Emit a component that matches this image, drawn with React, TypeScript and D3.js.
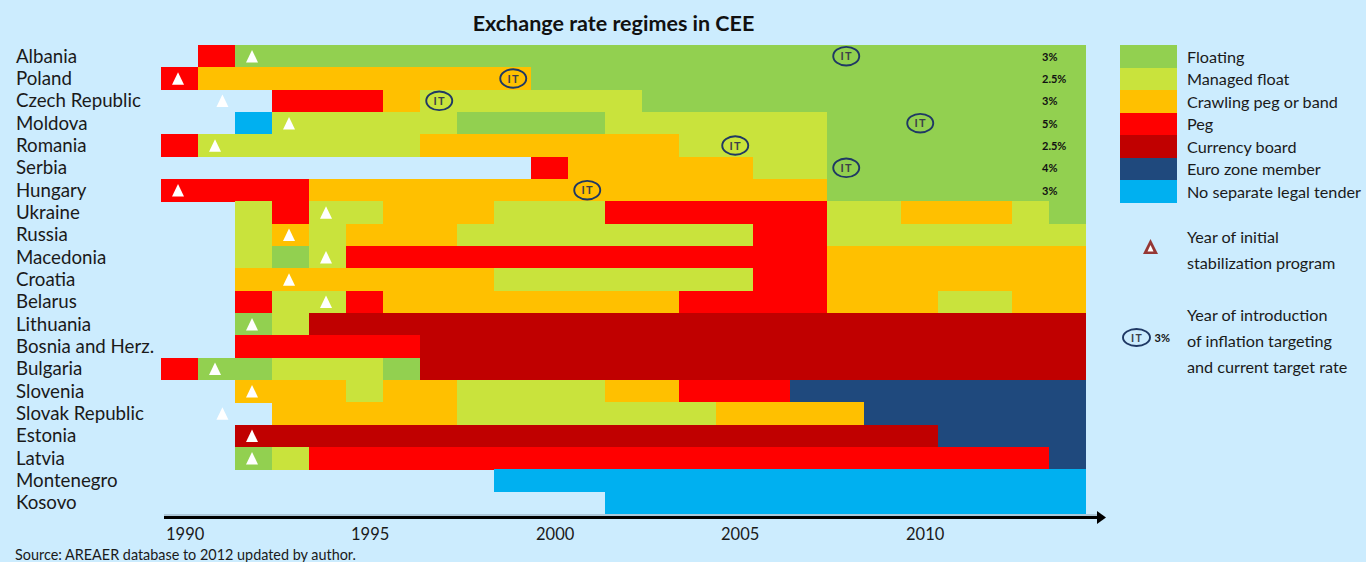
import React from "react";
import * as d3 from "d3";

const countries = [
  "Albania", "Poland", "Czech Republic", "Moldova", "Romania", "Serbia", "Hungary",
  "Ukraine", "Russia", "Macedonia", "Croatia", "Belarus", "Lithuania", "Bosnia and Herz.",
  "Bulgaria", "Slovenia", "Slovak Republic", "Estonia", "Latvia", "Montenegro", "Kosovo",
];

const regimeKeys = ["F", "M", "C", "P", "B", "E", "N"];
const regimeNames = [
  "Floating", "Managed float", "Crawling peg or band", "Peg",
  "Currency board", "Euro zone member", "No separate legal tender",
];
const regimeColors = ["#92D050", "#C9E33C", "#FFC000", "#FF0000", "#C00000", "#1F497D", "#00B0F0"];

const tickYears = [1990, 1995, 2000, 2005, 2010];

// [country, regime, start year, end year]
const segments: [string, string, number, number][] = [
  ["Albania", "P", 1991, 1992], ["Albania", "F", 1992, 2015],
  ["Poland", "P", 1990, 1991], ["Poland", "C", 1991, 2000], ["Poland", "F", 2000, 2015],
  ["Czech Republic", "P", 1993, 1996], ["Czech Republic", "C", 1996, 1997], ["Czech Republic", "M", 1997, 2003], ["Czech Republic", "F", 2003, 2015],
  ["Moldova", "N", 1992, 1993], ["Moldova", "M", 1993, 1998], ["Moldova", "F", 1998, 2002], ["Moldova", "M", 2002, 2008], ["Moldova", "F", 2008, 2015],
  ["Romania", "P", 1990, 1991], ["Romania", "M", 1991, 1997], ["Romania", "C", 1997, 2004], ["Romania", "M", 2004, 2008], ["Romania", "F", 2008, 2015],
  ["Serbia", "P", 2000, 2001], ["Serbia", "C", 2001, 2006], ["Serbia", "M", 2006, 2008], ["Serbia", "F", 2008, 2015],
  ["Hungary", "P", 1990, 1994], ["Hungary", "C", 1994, 2008], ["Hungary", "F", 2008, 2015],
  ["Ukraine", "M", 1992, 1993], ["Ukraine", "P", 1993, 1994], ["Ukraine", "M", 1994, 1996], ["Ukraine", "C", 1996, 1999], ["Ukraine", "M", 1999, 2002], ["Ukraine", "P", 2002, 2008], ["Ukraine", "M", 2008, 2010], ["Ukraine", "C", 2010, 2013], ["Ukraine", "M", 2013, 2014], ["Ukraine", "F", 2014, 2015],
  ["Russia", "M", 1992, 1993], ["Russia", "C", 1993, 1994], ["Russia", "M", 1994, 1995], ["Russia", "C", 1995, 1998], ["Russia", "M", 1998, 2006], ["Russia", "P", 2006, 2008], ["Russia", "M", 2008, 2015],
  ["Macedonia", "M", 1992, 1993], ["Macedonia", "F", 1993, 1994], ["Macedonia", "M", 1994, 1995], ["Macedonia", "P", 1995, 2008], ["Macedonia", "C", 2008, 2015],
  ["Croatia", "C", 1992, 1999], ["Croatia", "M", 1999, 2006], ["Croatia", "P", 2006, 2008], ["Croatia", "C", 2008, 2015],
  ["Belarus", "P", 1992, 1993], ["Belarus", "M", 1993, 1995], ["Belarus", "P", 1995, 1996], ["Belarus", "C", 1996, 2004], ["Belarus", "P", 2004, 2008], ["Belarus", "C", 2008, 2011], ["Belarus", "M", 2011, 2013], ["Belarus", "C", 2013, 2015],
  ["Lithuania", "F", 1992, 1993], ["Lithuania", "M", 1993, 1994], ["Lithuania", "B", 1994, 2015],
  ["Bosnia and Herz.", "P", 1992, 1997], ["Bosnia and Herz.", "B", 1997, 2015],
  ["Bulgaria", "P", 1990, 1991], ["Bulgaria", "F", 1991, 1993], ["Bulgaria", "M", 1993, 1996], ["Bulgaria", "F", 1996, 1997], ["Bulgaria", "B", 1997, 2015],
  ["Slovenia", "C", 1992, 1995], ["Slovenia", "M", 1995, 1996], ["Slovenia", "C", 1996, 1998], ["Slovenia", "M", 1998, 2002], ["Slovenia", "C", 2002, 2004], ["Slovenia", "P", 2004, 2007], ["Slovenia", "E", 2007, 2015],
  ["Slovak Republic", "C", 1993, 1998], ["Slovak Republic", "M", 1998, 2005], ["Slovak Republic", "C", 2005, 2009], ["Slovak Republic", "E", 2009, 2015],
  ["Estonia", "B", 1992, 2011], ["Estonia", "E", 2011, 2015],
  ["Latvia", "F", 1992, 1993], ["Latvia", "M", 1993, 1994], ["Latvia", "P", 1994, 2014], ["Latvia", "E", 2014, 2015],
  ["Montenegro", "N", 1999, 2015],
  ["Kosovo", "N", 2002, 2015],
];

// [country, year of initial stabilization program (marker position)]
const stabilization: [string, number][] = [
  ["Albania", 1992], ["Poland", 1990], ["Czech Republic", 1991.2], ["Moldova", 1993],
  ["Romania", 1991], ["Hungary", 1990], ["Ukraine", 1994], ["Russia", 1993],
  ["Macedonia", 1994], ["Croatia", 1993], ["Belarus", 1994], ["Lithuania", 1992],
  ["Bulgaria", 1991], ["Slovenia", 1992], ["Slovak Republic", 1991.2], ["Estonia", 1992],
  ["Latvia", 1992],
];

// [country, year of inflation targeting introduction, current target rate]
const inflationTargeting: [string, number, string][] = [
  ["Albania", 2008, "3%"], ["Poland", 1999, "2.5%"], ["Czech Republic", 1997, "3%"],
  ["Moldova", 2010, "5%"], ["Romania", 2005, "2.5%"], ["Serbia", 2008, "4%"],
  ["Hungary", 2001, "3%"],
];

const FONT = "Lato, 'Open Sans', sans-serif";
const BG = "#CCECFE";
const TEXT = "#1a1a1a";
const IT_STROKE = "#1F3864";

function ITMark({ cx, cy }: { cx: number; cy: number }) {
  return (
    <g>
      <ellipse cx={cx} cy={cy} rx={13} ry={9.3} fill="none" stroke={IT_STROKE} strokeWidth={1.9} />
      <text x={cx + 0.5} y={cy + 4} textAnchor="middle" fontFamily={FONT} fontSize={11} fontWeight={700}
        letterSpacing={1.2} fill="#3b3f48">IT</text>
    </g>
  );
}

export default function App() {
  const x = d3.scaleLinear().domain([1990, 2015]).range([161, 1086]);
  const y = d3.scaleBand<string>().domain(countries).range([45, 514]).padding(0);
  const rh = y.bandwidth();
  const cell = x(1991) - x(1990);
  const color = d3.scaleOrdinal<string, string>().domain(regimeKeys).range(regimeColors);
  const legendY = d3.scaleBand<string>().domain(regimeNames).range([45, 203]).padding(0);

  const tri = (cx: number, cy: number, w: number, h: number) =>
    `M${cx},${cy - h / 2}L${cx + w / 2},${cy + h / 2}L${cx - w / 2},${cy + h / 2}Z`;

  return (
    <svg width={1366} height={562} style={{ position: "absolute", left: 0, top: 0, display: "block" }}
      xmlns="http://www.w3.org/2000/svg">
      <rect x={0} y={0} width={1366} height={562} fill={BG} />
      <text x={613.5} y={31} textAnchor="middle" fontFamily={FONT} fontSize={21.5} fontWeight={700} fill="#111">
        Exchange rate regimes in CEE
      </text>

      {/* country labels */}
      {countries.map((c) => (
        <text key={c} x={16} y={(y(c) as number) + rh / 2 + 6.5} fontFamily={FONT} fontSize={18.7} fill={TEXT}>
          {c}
        </text>
      ))}

      {/* regime segments */}
      {segments.map(([c, r, s, e], i) => (
        <rect key={i} x={x(s)} y={y(c) as number} width={x(e) - x(s)} height={rh + 0.3}
          fill={color(r)} shapeRendering="crispEdges" />
      ))}

      {/* stabilization triangles */}
      {stabilization.map(([c, yr]) => (
        <path key={c} d={tri(x(yr) + cell * 0.46, (y(c) as number) + rh / 2, 12, 12.5)} fill="#fff" />
      ))}

      {/* inflation targeting */}
      {inflationTargeting.map(([c, yr, rate]) => {
        const cy = (y(c) as number) + rh / 2;
        return (
          <g key={c}>
            <ITMark cx={x(yr) + cell * 0.52} cy={cy} />
            <text x={1042} y={cy + 4.5} fontFamily={FONT} fontSize={11} fontWeight={700} fill="#111">{rate}</text>
          </g>
        );
      })}

      {/* axis */}
      <line x1={164} x2={1098} y1={515} y2={515} stroke="#8fa3b3" strokeWidth={1} />
      <line x1={164} x2={1099} y1={517.5} y2={517.5} stroke="#000" strokeWidth={3} />
      <path d="M1097,511L1106,517.5L1097,524Z" fill="#000" />
      {tickYears.map((t) => (
        <text key={t} x={x(t) + 5} y={540} fontFamily={FONT} fontSize={16.5} fill={TEXT}>{t}</text>
      ))}

      <text x={15} y={559.5} fontFamily={FONT} fontSize={14.4} fill={TEXT}>
        Source: AREAER database to 2012 updated by author.
      </text>

      {/* legend */}
      {regimeNames.map((n, i) => (
        <g key={n}>
          <rect x={1120} y={legendY(n) as number} width={57} height={legendY.bandwidth() + 0.3}
            fill={regimeColors[i]} shapeRendering="crispEdges" />
          <text x={1187} y={(legendY(n) as number) + legendY.bandwidth() / 2 + 6.3} fontFamily={FONT}
            fontSize={16.2} fill={TEXT}>{n}</text>
        </g>
      ))}
      <path d={tri(1150.5, 246.5, 15, 15)} fill="#953735" />
      <path d={tri(1150.5, 248.3, 6, 6.5)} fill="#fff" />
      <text fontFamily={FONT} fontSize={16.2} fill={TEXT}>
        <tspan x={1187} y={242.5}>Year of initial</tspan>
        <tspan x={1187} y={268.5}>stabilization program</tspan>
      </text>
      <ellipse cx={1136.5} cy={337.5} rx={13.5} ry={8.5} fill="none" stroke={IT_STROKE} strokeWidth={1.9} />
      <text x={1137} y={341.5} textAnchor="middle" fontFamily={FONT} fontSize={10.5} fontWeight={700}
        letterSpacing={1.2} fill="#3b3f48">IT</text>
      <text x={1154.5} y={341.8} fontFamily={FONT} fontSize={11} fontWeight={700} fill="#111">3%</text>
      <text fontFamily={FONT} fontSize={16.2} fill={TEXT}>
        <tspan x={1187} y={320.5}>Year of introduction</tspan>
        <tspan x={1187} y={346.5}>of inflation targeting</tspan>
        <tspan x={1187} y={372.5}>and current target rate</tspan>
      </text>
    </svg>
  );
}
